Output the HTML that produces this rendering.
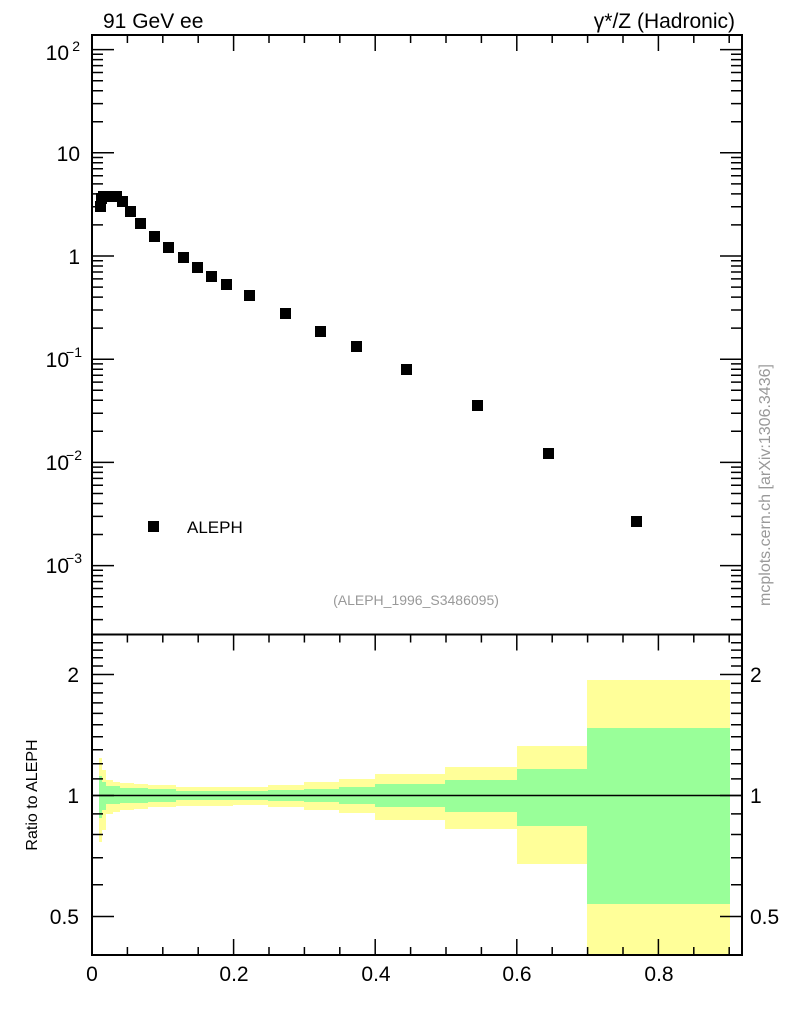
<!DOCTYPE html>
<html><head><meta charset="utf-8"><style>
body{margin:0;background:#fff}
svg{display:block;font-family:"Liberation Sans",sans-serif}
</style></head><body>
<svg width="786" height="1024" viewBox="0 0 786 1024" xmlns="http://www.w3.org/2000/svg">
<rect width="786" height="1024" fill="#fff"/>
<g shape-rendering="crispEdges">
<g fill="#ffff99">
<rect x="99" y="758" width="3" height="84"/>
<rect x="102" y="770" width="4" height="60"/>
<rect x="106" y="780" width="7" height="34"/>
<rect x="113" y="782" width="7" height="30"/>
<rect x="120" y="783" width="14" height="27"/>
<rect x="134" y="784" width="14" height="25"/>
<rect x="148" y="785" width="28" height="22"/>
<rect x="176" y="787" width="57" height="19"/>
<rect x="233" y="787" width="35" height="18"/>
<rect x="268" y="785" width="36" height="22"/>
<rect x="304" y="782" width="35" height="28"/>
<rect x="339" y="779" width="36" height="34"/>
<rect x="375" y="774" width="70" height="46"/>
<rect x="445" y="767" width="72" height="62"/>
<rect x="517" y="746" width="70" height="118"/>
<rect x="587" y="680" width="143" height="275"/>
</g>
<g fill="#99ff99">
<rect x="99" y="776" width="3" height="42"/>
<rect x="102" y="782" width="4" height="28"/>
<rect x="106" y="786" width="14" height="18"/>
<rect x="120" y="788" width="28" height="15"/>
<rect x="148" y="789" width="28" height="13"/>
<rect x="176" y="791" width="92" height="9"/>
<rect x="268" y="790" width="36" height="11"/>
<rect x="304" y="789" width="35" height="13"/>
<rect x="339" y="787" width="36" height="17"/>
<rect x="375" y="784" width="70" height="23"/>
<rect x="445" y="780" width="72" height="32"/>
<rect x="517" y="769" width="70" height="57"/>
<rect x="587" y="728" width="143" height="176"/>
</g>
</g>
<line x1="92" y1="795.5" x2="742" y2="795.5" stroke="#000" stroke-width="1.5"/>
<rect x="92" y="35" width="650" height="599.5" fill="none" stroke="#000" stroke-width="2"/>
<rect x="92" y="634.5" width="650" height="320.5" fill="none" stroke="#000" stroke-width="2"/>
<g stroke="#000" stroke-width="1.5">
<path d="
M92 35v16 M127.4 35v8 M162.8 35v8 M198.2 35v8 M233.6 35v16 M269 35v8 M304.4 35v8 M339.8 35v8 M375.2 35v16 M410.6 35v8 M446 35v8 M481.4 35v8 M516.8 35v16 M552.2 35v8 M587.6 35v8 M623 35v8 M658.4 35v16 M693.8 35v8 M729.2 35v8
M92 634.5v16 M127.4 634.5v8 M162.8 634.5v8 M198.2 634.5v8 M233.6 634.5v16 M269 634.5v8 M304.4 634.5v8 M339.8 634.5v8 M375.2 634.5v16 M410.6 634.5v8 M446 634.5v8 M481.4 634.5v8 M516.8 634.5v16 M552.2 634.5v8 M587.6 634.5v8 M623 634.5v8 M658.4 634.5v16 M693.8 634.5v8 M729.2 634.5v8
M92 955v-16 M127.4 955v-8 M162.8 955v-8 M198.2 955v-8 M233.6 955v-16 M269 955v-8 M304.4 955v-8 M339.8 955v-8 M375.2 955v-16 M410.6 955v-8 M446 955v-8 M481.4 955v-8 M516.8 955v-16 M552.2 955v-8 M587.6 955v-8 M623 955v-8 M658.4 955v-16 M693.8 955v-8 M729.2 955v-8
"/>
<path id="ylog" d=""/>
</g>
<g fill="#000">
<rect x="95" y="201" width="11" height="11"/><rect x="96" y="193" width="11" height="11"/>
<rect x="98" y="191" width="11" height="11"/><rect x="102" y="191" width="11" height="11"/>
<rect x="107" y="191" width="11" height="11"/><rect x="111" y="191" width="11" height="11"/>
<rect x="117" y="196" width="11" height="11"/><rect x="125" y="206" width="11" height="11"/>
<rect x="135" y="218" width="11" height="11"/><rect x="149" y="231" width="11" height="11"/>
<rect x="163" y="242" width="11" height="11"/><rect x="178" y="252" width="11" height="11"/>
<rect x="192" y="262" width="11" height="11"/><rect x="206" y="271" width="11" height="11"/>
<rect x="221" y="279" width="11" height="11"/><rect x="244" y="290" width="11" height="11"/>
<rect x="280" y="308" width="11" height="11"/><rect x="315" y="326" width="11" height="11"/>
<rect x="351" y="341" width="11" height="11"/><rect x="401" y="364" width="11" height="11"/>
<rect x="472" y="400" width="11" height="11"/><rect x="543" y="448" width="11" height="11"/>
<rect x="631" y="516" width="11" height="11"/>
<rect x="148" y="521" width="11" height="11"/>
</g>
<g font-size="21" fill="#000">
<text x="103" y="28">91 GeV ee</text>
<text x="735" y="28" text-anchor="end">γ*/Z (Hadronic)</text>
<text x="187" y="533" font-size="17">ALEPH</text>
<g text-anchor="end">
<text x="69" y="60">10</text><text x="80" y="51" font-size="14">2</text>
<text x="80" y="161">10</text>
<text x="80" y="264">1</text>
<text x="69" y="367">10</text><text x="82" y="357" font-size="14">−1</text>
<text x="69" y="470">10</text><text x="82" y="460" font-size="14">−2</text>
<text x="69" y="573">10</text><text x="82" y="563" font-size="14">−3</text>
<text x="79" y="682">2</text><text x="79" y="803">1</text><text x="79" y="924">0.5</text>
</g>
<text x="750" y="682">2</text><text x="750" y="803">1</text><text x="750" y="924">0.5</text>
<g text-anchor="middle">
<text x="92" y="981">0</text><text x="234" y="981">0.2</text><text x="376" y="981">0.4</text><text x="517" y="981">0.6</text><text x="659" y="981">0.8</text>
</g>
</g>
<text x="416" y="605" font-size="14" fill="#999" text-anchor="middle">(ALEPH_1996_S3486095)</text>
<text transform="translate(770,485) rotate(-90)" font-size="16" fill="#999" text-anchor="middle">mcplots.cern.ch [arXiv:1306.3436]</text>
<text transform="translate(37,795) rotate(-90)" font-size="16" fill="#000" text-anchor="middle">Ratio to ALEPH</text>
<script>
(function(){
var d="";
function yl(v){return 256-103.2*Math.log10(v);}
for(var e=-4;e<=2;e++){for(var m=1;m<10;m++){var v=m*Math.pow(10,e);var y=yl(v);if(y<35||y>634.5)continue;var L=(m==1)?22:11;d+="M92 "+y.toFixed(1)+"h"+L+"M742 "+y.toFixed(1)+"h-"+L;}}
function yr(r){return 795.5-402*Math.log10(r);}
var rs=[0.4,0.5,0.6,0.7,0.8,0.9,1,1.1,1.2,1.3,1.4,1.5,1.6,1.7,1.8,1.9,2,2.1,2.2,2.3,2.4];
rs.forEach(function(r){var y=yr(r);if(y<635||y>955)return;var L=(r==0.5||r==1||r==2)?22:11;d+="M92 "+y.toFixed(1)+"h"+L+"M742 "+y.toFixed(1)+"h-"+L;});
document.getElementById("ylog").setAttribute("d",d);
})();
</script>
</svg>
</body></html>
